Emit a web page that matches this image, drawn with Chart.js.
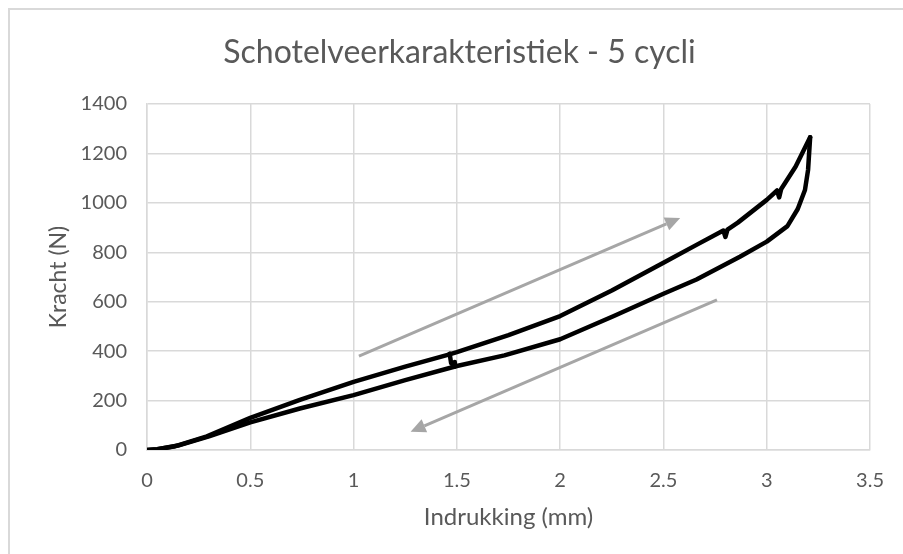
<!DOCTYPE html>
<html>
<head>
<meta charset="utf-8">
<script src="https://cdn.jsdelivr.net/npm/chart.js@4/dist/chart.umd.min.js"></script>
<style>
  html, body { margin: 0; padding: 0; background: #ffffff; }
  #wrap { width: 903px; height: 554px; }
</style>
</head>
<body>
<div id="wrap"><canvas id="chart" width="903" height="554"></canvas></div>
<script>
// Belastingstak (indrukken): indrukking in mm, kracht in N
const loadX = [0, 0.05, 0.13, 0.29, 0.5, 0.74, 1.0, 1.25, 1.46, 1.5, 1.75, 2.0, 2.25, 2.5, 2.66, 2.79, 2.80, 2.81, 2.86, 3.0, 3.05, 3.06, 3.07, 3.14, 3.21];
const loadY = [0, 3, 14, 55, 130, 203, 276, 337, 386, 396, 465, 542, 645, 758, 830, 888, 862, 892, 920, 1012, 1050, 1022, 1056, 1147, 1265];

// Ontlastingstak (terugveren)
const unloadX = [3.21, 3.20, 3.185, 3.15, 3.10, 3.0, 2.87, 2.66, 2.5, 2.26, 2.0, 1.73, 1.5, 1.25, 1.0, 0.74, 0.5, 0.3, 0.15, 0.05, 0];
const unloadY = [1265, 1133, 1052, 975, 906, 843, 782, 690, 632, 542, 448, 383, 340, 283, 222, 168, 112, 55, 18, 3, 0];

// Overgang tussen de takken rond 1.47 mm
const jogX = [1.465, 1.472, 1.49, 1.49];
const jogY = [390, 352, 338, 356];

// Richtingspijlen (begin- en eindpunt in mm / N)
const arrowStartX = [1.026, 2.759];
const arrowStartY = [380, 607];
const arrowEndX = [2.581, 1.276];
const arrowEndY = [939, 74];

const xTicks = [0, 0.5, 1, 1.5, 2, 2.5, 3, 3.5];
const yTicks = [0, 200, 400, 600, 800, 1000, 1200, 1400];

const titleText = 'Schotelveerkarakteristiek - 5 cycli';
const xTitle = 'Indrukking (mm)';
const yTitle = 'Kracht (N)';

const FONT = 'Lato, "Open Sans", sans-serif';
const TEXT = '#595959';
const GRID = '#d9d9d9';

function toPoints(xs, ys) {
  return xs.map((x, i) => ({ x: x, y: ys[i] }));
}

function curve(label, xs, ys) {
  return {
    label: label,
    data: toPoints(xs, ys),
    showLine: true,
    borderColor: '#000000',
    backgroundColor: '#000000',
    borderWidth: 4.5,
    pointRadius: 0,
    tension: 0,
    borderJoinStyle: 'round',
    borderCapStyle: 'round'
  };
}

// Buitenrand van de grafiek
const frame = {
  id: 'frame',
  beforeDraw(chart) {
    const ctx = chart.ctx;
    ctx.save();
    ctx.fillStyle = '#ffffff';
    ctx.fillRect(0, 0, chart.width, chart.height);
    ctx.strokeStyle = GRID;
    ctx.lineWidth = 2;
    ctx.strokeRect(9, 9, chart.width + 40, chart.height + 40);
    ctx.restore();
  }
};

// Grijze pijlen voor belasten en ontlasten
const arrows = {
  id: 'arrows',
  afterDatasetsDraw(chart) {
    const xs = chart.scales.x, ys = chart.scales.y;
    const ctx = chart.ctx;
    ctx.save();
    ctx.strokeStyle = '#a6a6a6';
    ctx.fillStyle = '#a6a6a6';
    ctx.lineWidth = 3;
    for (let i = 0; i < arrowStartX.length; i++) {
      const x0 = xs.getPixelForValue(arrowStartX[i]);
      const y0 = ys.getPixelForValue(arrowStartY[i]);
      const x1 = xs.getPixelForValue(arrowEndX[i]);
      const y1 = ys.getPixelForValue(arrowEndY[i]);
      const ang = Math.atan2(y1 - y0, x1 - x0);
      const head = 15, half = 7;
      const bx = x1 - head * Math.cos(ang), by = y1 - head * Math.sin(ang);
      ctx.beginPath();
      ctx.moveTo(x0, y0);
      ctx.lineTo(bx, by);
      ctx.stroke();
      ctx.beginPath();
      ctx.moveTo(x1, y1);
      ctx.lineTo(bx + half * Math.sin(ang), by - half * Math.cos(ang));
      ctx.lineTo(bx - half * Math.sin(ang), by + half * Math.cos(ang));
      ctx.closePath();
      ctx.fill();
    }
    ctx.restore();
  }
};

new Chart(document.getElementById('chart'), {
  type: 'scatter',
  data: {
    datasets: [
      curve('Belasten', loadX, loadY),
      curve('Ontlasten', unloadX, unloadY),
      curve('Overgang', jogX, jogY)
    ]
  },
  options: {
    responsive: false,
    animation: false,
    layout: { padding: { left: 45, right: 29, top: 0, bottom: 0 } },
    plugins: {
      legend: { display: false },
      tooltip: { enabled: false },
      title: {
        display: true,
        text: titleText,
        color: TEXT,
        font: { family: FONT, size: 32, weight: 'normal' },
        padding: { top: 33, bottom: 32.6 }
      }
    },
    scales: {
      x: {
        type: 'linear',
        min: 0,
        max: 3.5,
        afterBuildTicks(scale) { scale.ticks = xTicks.map(v => ({ value: v })); },
        afterFit(scale) { scale.height = 104; },
        ticks: {
          color: TEXT,
          font: { family: FONT, size: 20 },
          padding: 19,
          maxRotation: 0,
          callback: v => String(v)
        },
        grid: { color: GRID, lineWidth: 1.5, drawTicks: false },
        border: { color: GRID, width: 1.5 },
        title: {
          display: true,
          text: xTitle,
          color: TEXT,
          font: { family: FONT, size: 24 },
          padding: { top: 0, bottom: 22.6 }
        }
      },
      y: {
        type: 'linear',
        min: 0,
        max: 1400,
        afterBuildTicks(scale) { scale.ticks = yTicks.map(v => ({ value: v })); },
        afterFit(scale) { scale.width = 102; },
        ticks: {
          color: TEXT,
          font: { family: FONT, size: 20 },
          padding: 20,
          callback: v => String(v)
        },
        grid: { color: GRID, lineWidth: 1.5, drawTicks: false },
        border: { color: GRID, width: 1.5 },
        title: {
          display: true,
          text: yTitle,
          color: TEXT,
          font: { family: FONT, size: 23 },
          padding: { top: 0, bottom: 0 }
        }
      }
    }
  },
  plugins: [frame, arrows]
});
</script>
</body>
</html>
